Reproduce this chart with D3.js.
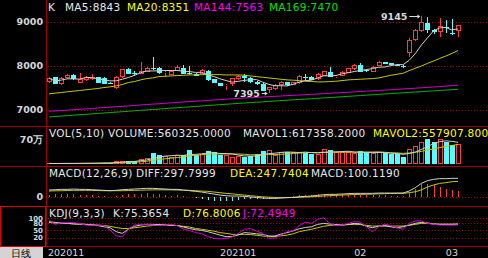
<!DOCTYPE html>
<html>
<head>
<meta charset="utf-8">
<script src="https://cdn.jsdelivr.net/npm/d3@7/dist/d3.min.js"></script>
<style>
  body { margin: 0; background: #000; }
  svg  { display: block; font-family: 'DejaVu Sans', sans-serif; }
</style>
</head>
<body>
<script>
// Daily bars (one value per candle).
var opens  = [7647, 7744, 7586, 7722, 7797, 7624, 7684, 7699, 7744, 7722, 7624,
              7496, 7744, 7932, 7850, 7820, 7872, 7962, 7962, 7850, 7797, 7895,
              7947, 7835, 7820, 7820, 7895, 7699, 7609, 7556, 7594, 7699, 7774,
              7722, 7647, 7594, 7459, 7474, 7571, 7632, 7571, 7609, 7759, 7759,
              7699, 7774, 7865, 7744, 7774, 7850, 7925, 8023, 7910, 7872, 8000,
              8083, 8060, 8030, 8000, 8295, 8590, 8795, 8977, 8818, 8780, 8893, 8750, 8795];
var highs  = [7760, 7760, 7740, 7820, 7810, 7850, 7780, 7820, 7760, 7740, 7640,
              7770, 7940, 7950, 7895, 8083, 7980, 8195, 7975, 7885, 7905, 8023,
              8023, 8008, 7830, 7925, 7905, 7710, 7620, 7590, 7735, 7790, 7820,
              7740, 7660, 7610, 7530, 7580, 7650, 7645, 7645, 7790, 7820, 7775,
              7830, 7895, 7985, 7790, 7885, 7960, 8035, 8075, 7925, 7995, 8110,
              8098, 8075, 8045, 8015, 8630, 8830, 9145, 9120, 8840, 9080, 9045, 9060, 8930];
var lows   = [7610, 7580, 7560, 7700, 7690, 7610, 7670, 7690, 7610, 7580, 7580,
              7480, 7730, 7810, 7775, 7810, 7860, 7915, 7820, 7744, 7785, 7880,
              7810, 7800, 7765, 7810, 7670, 7610, 7540, 7459, 7549, 7690, 7647,
              7620, 7575, 7430, 7395, 7460, 7459, 7550, 7560, 7600, 7670, 7675,
              7690, 7765, 7750, 7735, 7765, 7840, 7915, 7860, 7860, 7860, 7990,
              8040, 8015, 7990, 7955, 8200, 8575, 8780, 8742, 8730, 8667, 8742, 8700, 8660];
var closes = [7722, 7594, 7722, 7797, 7699, 7699, 7759, 7744, 7624, 7594, 7594,
              7759, 7925, 7820, 7835, 7895, 7962, 7925, 7835, 7872, 7895, 7970,
              7820, 7812, 7774, 7910, 7684, 7624, 7556, 7578, 7722, 7774, 7736,
              7632, 7586, 7443, 7519, 7571, 7639, 7564, 7632, 7774, 7730, 7684,
              7820, 7880, 7759, 7774, 7872, 7947, 8023, 7872, 7880, 7985, 8098,
              8053, 8030, 8000, 7970, 8590, 8818, 9007, 8818, 8770, 8920, 8857, 8735, 8930];
var volumes = [15000, 12000, 20000, 18000, 14000, 25000, 22000, 30000, 28000, 35000, 40000,
               74000, 87000, 83000, 78000, 156000, 166000, 304000, 267000, 235000, 212000, 244000,
               267000, 396000, 262000, 276000, 368000, 331000, 258000, 262000, 212000, 216000, 207000,
               235000, 276000, 368000, 396000, 267000, 350000, 336000, 336000, 350000, 327000, 276000,
               281000, 428000, 400000, 336000, 331000, 331000, 308000, 373000, 331000, 304000, 331000,
               304000, 276000, 276000, 200000, 440000, 515000, 630000, 707000, 620000, 720000, 630000, 557000, 560325];

var ma20  = [7368, 7383, 7398, 7413, 7428, 7443, 7459, 7474, 7489, 7511, 7526,
             7549, 7579, 7624, 7647, 7684, 7714, 7729, 7759, 7767, 7774, 7782,
             7789, 7797, 7797, 7804, 7804, 7804, 7804, 7797, 7797, 7797, 7789,
             7774, 7759, 7744, 7729, 7714, 7699, 7684, 7677, 7669, 7654, 7647,
             7639, 7639, 7647, 7654, 7669, 7684, 7692, 7699, 7707, 7714, 7729,
             7759, 7789, 7812, 7835, 7895, 7947, 8000, 8060, 8113, 8173, 8226, 8286, 8351];
var ma144 = [6970, 6979, 6988, 6997, 7006, 7016, 7025, 7035, 7045, 7054, 7064,
             7074, 7084, 7094, 7104, 7114, 7124, 7134, 7143, 7153, 7163, 7172,
             7182, 7191, 7200, 7209, 7218, 7227, 7236, 7245, 7254, 7263, 7272,
             7280, 7288, 7296, 7303, 7311, 7318, 7326, 7333, 7341, 7348, 7356,
             7364, 7372, 7380, 7388, 7396, 7404, 7412, 7420, 7428, 7436, 7444,
             7452, 7460, 7469, 7478, 7487, 7496, 7505, 7514, 7524, 7533, 7543, 7553, 7563];
var ma169 = [6842, 6852, 6862, 6872, 6882, 6892, 6902, 6912, 6922, 6932, 6942,
             6952, 6962, 6972, 6982, 6992, 7002, 7012, 7022, 7032, 7042, 7052,
             7062, 7071, 7081, 7091, 7101, 7111, 7121, 7131, 7140, 7150, 7159,
             7168, 7177, 7186, 7195, 7204, 7213, 7222, 7231, 7240, 7248, 7257,
             7266, 7275, 7284, 7292, 7301, 7310, 7319, 7328, 7337, 7346, 7355,
             7364, 7373, 7382, 7391, 7400, 7409, 7418, 7427, 7436, 7445, 7454, 7462, 7470];

// MACD(12,26,9) lines.
var diff = [108, 113, 119, 119, 124, 119, 119, 113, 108, 103, 97,
            103, 113, 119, 124, 130, 135, 135, 130, 124, 119, 119,
            108, 97, 86, 76, 59, 43, 27, 16, 11, 11, 5,
            -5, -11, -22, -27, -27, -22, -16, -11, 0, 5, 11,
            22, 32, 38, 38, 43, 49, 54, 54, 54, 54, 59,
            59, 59, 59, 59, 92, 146, 216, 259, 281, 292, 292, 297, 297.8];
var dea  = [92, 95, 97, 100, 103, 103, 103, 103, 100, 97, 97,
            97, 97, 100, 103, 105, 108, 111, 111, 111, 111, 108,
            105, 103, 97, 92, 86, 76, 65, 54, 46, 36, 26,
            16, 6, -2, -8, -12, -14, -14, -13, -10, -6, -2,
            4, 11, 16, 22, 27, 30, 35, 38, 40, 43, 46,
            49, 51, 54, 54, 65, 80, 110, 157, 190, 215, 227, 243, 247.7];

// KDJ(9,3,3) lines.
var kLine = [86, 83, 80, 79, 77, 76, 75, 72, 70, 65, 61,
             45, 38, 55, 67, 72, 75, 75, 74, 72, 72, 70,
             64, 58, 53, 50, 45, 38, 31, 24, 25, 31, 41,
             39, 36, 34, 27, 27, 35, 41, 48, 57, 62, 65,
             75, 79, 76, 74, 72, 75, 79, 77, 67, 61, 68,
             70, 65, 61, 65, 72, 79, 83, 81, 76, 75, 75, 75, 75.37];
var dLine = [83, 80, 79, 79, 77, 76, 75, 74, 72, 70, 67,
             62, 58, 58, 61, 64, 68, 70, 71, 72, 71, 70,
             67, 64, 58, 55, 51, 47, 41, 38, 34, 33, 34,
             33, 30, 27, 24, 25, 28, 31, 36, 45, 50, 55,
             61, 67, 71, 72, 72, 74, 75, 74, 71, 68, 68,
             68, 68, 68, 68, 71, 75, 79, 79, 77, 76, 76, 76, 76.8];
var jLine = [93, 75, 81, 82, 82, 79, 72, 71, 72, 70, 52,
             28, 23, 55, 72, 75, 75, 72, 70, 70, 75, 70,
             55, 50, 41, 37, 24, 17, 15, 17, 24, 37, 55,
             58, 47, 38, 17, 19, 31, 45, 48, 70, 84, 79,
             96, 102, 79, 70, 72, 79, 86, 84, 65, 45, 65,
             76, 70, 61, 55, 79, 89, 89, 79, 75, 72, 72, 72, 72.49];

// Axis labels.
var dateTicks   = [0, 31, 51, 66];
var dateLabels  = ['202011', '202101', '02', '03'];
var priceTicks  = [7000, 8000, 9000];
var volTicks    = [700000];
var volLabels   = ['70万'];
var macdTicks   = [0];
var kdjTicks    = [20, 50, 80, 100];
var highMark    = 9145;
var lowMark     = 7395;

// Legend lines of each pane: [text, colour].
var kTitle    = [['K', '#e8e8e8'], ['MA5:8843', '#e8e8e8'], ['MA20:8351', '#ffff00'],
                 ['MA144:7563', '#ff00ff'], ['MA169:7470', '#00e000']];
var volTitle  = [['VOL(5,10) VOLUME:560325.0000', '#e8e8e8'], ['MAVOL1:617358.2000', '#e8e8e8'],
                 ['MAVOL2:557907.8000', '#ffff00']];
var macdTitle = [['MACD(12,26,9)', '#e8e8e8'], ['DIFF:297.7999', '#e8e8e8'],
                 ['DEA:247.7404', '#ffff00'], ['MACD:100.1190', '#e8e8e8']];
var kdjTitle  = [['KDJ(9,3,3)', '#e8e8e8'], ['K:75.3654', '#e8e8e8'],
                 ['D:76.8006', '#ffff00'], ['J:72.4949', '#ff00ff']];

var WIDTH  = 488;
var HEIGHT = 258;
var UP     = '#ff3c3c';
var DOWN   = '#54ffff';
var FRAME  = '#a00000';
var GRID   = '#a00000';
var TEXT   = '#d8d8d8';

var svg = d3.select('body')
            .append('svg')
            .attr('width', WIDTH)
            .attr('height', HEIGHT)
            .style('background', '#000');

var n = closes.length;
var x = d3.scalePoint().domain(d3.range(n)).range([49, 458]);
function cx(i) { return Math.round(x(i)) + 0.5; }

// Pane scales.
var yPrice = d3.scaleLinear().domain([7000, 9000]).range([110, 22]);
var yVol   = d3.scaleLinear().domain([0, 700000]).range([164, 139.5]);
var yMacd  = d3.scaleLinear().domain([0, 297.8]).range([196.7, 178.3]);
var yKdj   = d3.scaleLinear().domain([20, 100]).range([237.7, 218.3]);

// Short averages from the data itself.
function movingAvg(arr, w) {
  return arr.map(function(d, i) { return d3.mean(arr.slice(Math.max(0, i - w + 1), i + 1)); });
}
var ma5    = movingAvg(closes, 5);
var mavol1 = movingAvg(volumes, 5);
var mavol2 = movingAvg(volumes, 10);
var macd   = diff.map(function(d, i) { return 2 * (d - dea[i]); });

// ---- frame and grid ----
var frame = svg.append('g').attr('shape-rendering', 'crispEdges');
[126.5, 166.5, 206.5, 246.5].forEach(function(y) {
  frame.append('line').attr('x1', 0).attr('x2', WIDTH).attr('y1', y).attr('y2', y)
       .attr('stroke', FRAME);
});
frame.append('line').attr('x1', 46.5).attr('x2', 46.5).attr('y1', 0).attr('y2', 246)
     .attr('stroke', FRAME);
frame.append('rect').attr('x', 0.5).attr('y', 206.5).attr('width', 45).attr('height', 40)
     .attr('fill', 'none').attr('stroke', '#e00000');

function grid(scale, ticks) {
  svg.append('g').selectAll('line').data(ticks).enter().append('line')
     .attr('x1', 48).attr('x2', WIDTH)
     .attr('y1', function(d) { return Math.round(scale(d)) + 0.5; })
     .attr('y2', function(d) { return Math.round(scale(d)) + 0.5; })
     .attr('stroke', GRID).attr('stroke-dasharray', '1,2');
}
grid(yPrice, priceTicks);
grid(yMacd, macdTicks);
grid(yKdj, kdjTicks);

// ---- left labels ----
function leftLabels(scale, ticks, labels, size) {
  svg.append('g').selectAll('text').data(ticks).enter().append('text')
     .attr('x', 43)
     .attr('y', function(d) { return scale(d) + size * 0.36; })
     .attr('text-anchor', 'end')
     .attr('font-size', size).attr('font-weight', 'bold').attr('fill', TEXT)
     .text(function(d, i) { return labels ? labels[i] : d; });
}
leftLabels(yPrice, priceTicks, null, 9.5);
leftLabels(yVol, volTicks, volLabels, 9.5);
leftLabels(yMacd, macdTicks, null, 9.5);
leftLabels(yKdj, kdjTicks, null, 7);

// ---- titles (each part starts where it does on the reference) ----
function title(items, starts, y) {
  svg.append('g').selectAll('text').data(items).enter().append('text')
     .attr('x', function(d, i) { return starts[i]; })
     .attr('y', y)
     .attr('font-size', 10.5)
     .attr('letter-spacing', 0.3)
     .attr('fill', function(d) { return d[1]; })
     .text(function(d) { return d[0]; });
}
title(kTitle, [48, 65, 127, 194, 269], 11);
title(volTitle, [49, 243, 373], 137);
title(macdTitle, [49, 136, 230, 311], 177);
title(kdjTitle, [49, 113, 183, 243], 217);

// ---- candles ----
var candles = svg.append('g').attr('shape-rendering', 'crispEdges');
closes.forEach(function(c, i) {
  var o = opens[i], up = c >= o, col = up ? UP : DOWN;
  var top = Math.round(yPrice(Math.max(o, c))), bot = Math.round(yPrice(Math.min(o, c)));
  var hi = Math.round(yPrice(highs[i])), lo = Math.round(yPrice(lows[i]));
  var xc = cx(i);
  candles.append('line').attr('x1', xc).attr('x2', xc).attr('y1', hi).attr('y2', top)
         .attr('stroke', col);
  candles.append('line').attr('x1', xc).attr('x2', xc).attr('y1', bot).attr('y2', lo)
         .attr('stroke', col);
  if (bot - top < 1) {
    candles.append('line').attr('x1', xc - 2.5).attr('x2', xc + 2.5).attr('y1', top + 0.5).attr('y2', top + 0.5)
           .attr('stroke', col);
  } else if (up) {
    candles.append('rect').attr('x', xc - 2).attr('y', top + 0.5).attr('width', 4).attr('height', bot - top - 1)
           .attr('fill', '#000').attr('stroke', col);
  } else {
    candles.append('rect').attr('x', xc - 2.5).attr('y', top).attr('width', 5).attr('height', bot - top)
           .attr('fill', col);
  }
});

// ---- moving averages ----
function drawLine(values, scale, color) {
  svg.append('path')
     .datum(values)
     .attr('fill', 'none')
     .attr('stroke', color)
     .attr('stroke-width', 1)
     .attr('d', d3.line().x(function(d, i) { return x(i); }).y(function(d) { return scale(d); }));
}
drawLine(ma169, yPrice, '#00b400');
drawLine(ma144, yPrice, '#d000d0');
drawLine(ma20, yPrice, '#c8c800');
drawLine(ma5, yPrice, '#d0d0d0');

// high / low marks
function mark(i, value, gap) {
  var y = Math.round(yPrice(value)) + 0.5, xc = x(i);
  svg.append('text').attr('x', xc - gap).attr('y', y + 3.5).attr('text-anchor', 'end')
     .attr('font-size', 9.5).attr('font-weight', 'bold').attr('fill', TEXT).text(value);
  svg.append('line').attr('x1', xc - gap + 2).attr('x2', xc - 2).attr('y1', y).attr('y2', y)
     .attr('stroke', TEXT);
  svg.append('path').attr('d', 'M' + (xc - 1) + ',' + y + 'l-3,-2l0,4z').attr('fill', TEXT);
}
mark(highs.indexOf(highMark), highMark, 14);
mark(lows.indexOf(lowMark), lowMark, 9);

// ---- volume ----
var vol = svg.append('g').attr('shape-rendering', 'crispEdges');
volumes.forEach(function(v, i) {
  var up = closes[i] >= opens[i], col = up ? UP : DOWN;
  var top = Math.round(yVol(v)), base = Math.round(yVol(0)), xc = cx(i);
  if (base - top < 2) {
    vol.append('line').attr('x1', xc - 2.5).attr('x2', xc + 2.5).attr('y1', base - 0.5).attr('y2', base - 0.5)
       .attr('stroke', col);
  } else if (up) {
    vol.append('rect').attr('x', xc - 2).attr('y', top + 0.5).attr('width', 4).attr('height', base - top - 1)
       .attr('fill', 'none').attr('stroke', col);
  } else {
    vol.append('rect').attr('x', xc - 2.5).attr('y', top).attr('width', 5).attr('height', base - top)
       .attr('fill', col);
  }
});
drawLine(mavol2, yVol, '#c8c800');
drawLine(mavol1, yVol, '#d0d0d0');

// ---- MACD ----
svg.append('g').attr('shape-rendering', 'crispEdges')
   .selectAll('line').data(macd).enter().append('line')
   .attr('x1', function(d, i) { return cx(i); })
   .attr('x2', function(d, i) { return cx(i); })
   .attr('y1', yMacd(0))
   .attr('y2', function(d) { return yMacd(d); })
   .attr('stroke', function(d) { return d >= 0 ? UP : DOWN; });
drawLine(dea, yMacd, '#c8c800');
drawLine(diff, yMacd, '#d0d0d0');

// ---- KDJ ----
drawLine(dLine, yKdj, '#c8c800');
drawLine(kLine, yKdj, '#d0d0d0');
drawLine(jLine, yKdj, '#d000d0');

// ---- date axis ----
svg.append('rect').attr('x', 0).attr('y', 247).attr('width', 43).attr('height', 11).attr('fill', '#d4d4d4');
svg.append('text').attr('x', 21).attr('y', 256.5).attr('text-anchor', 'middle')
   .attr('font-size', 10).attr('fill', '#000').text('日线');
svg.append('g').selectAll('text').data(dateTicks).enter().append('text')
   .attr('x', function(d, i) { return i === 0 ? 48 : x(d); })
   .attr('y', 256)
   .attr('text-anchor', function(d, i) { return i === 0 ? 'start' : 'middle'; })
   .attr('font-size', 9.5).attr('fill', TEXT)
   .text(function(d, i) { return dateLabels[i]; });
</script>
</body>
</html>
